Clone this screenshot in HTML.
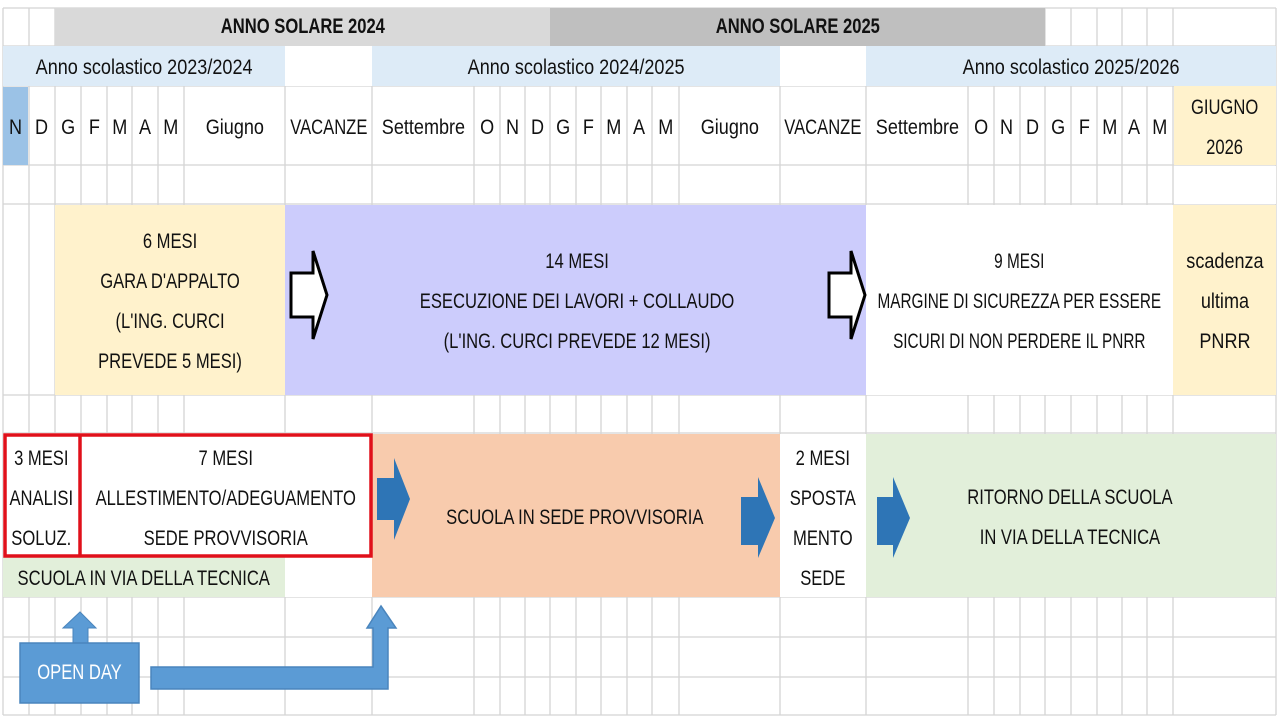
<!DOCTYPE html>
<html><head><meta charset="utf-8"><style>
body{margin:0;width:1280px;height:720px;background:#fff;overflow:hidden;position:relative;font-family:"Liberation Sans Narrow","Liberation Sans",sans-serif;color:#111}
.c{position:absolute;display:flex;align-items:center;justify-content:center;text-align:center;font-size:21px;line-height:40px}
.c span{display:inline-block;transform:scaleX(.86);white-space:nowrap}
.c.u span{transform:scaleX(.79)}
.c.n span{transform:scaleX(.73)}
.b{font-weight:bold}
svg{position:absolute;left:0;top:0}
</style></head><body>
<svg width="1280" height="720">
<g stroke="#d4d4d4" stroke-width="1.3">
<line x1="3" y1="8" x2="3" y2="715"/><line x1="29" y1="8" x2="29" y2="715"/><line x1="55" y1="8" x2="55" y2="715"/><line x1="81" y1="8" x2="81" y2="715"/><line x1="107" y1="8" x2="107" y2="715"/><line x1="132" y1="8" x2="132" y2="715"/><line x1="158" y1="8" x2="158" y2="715"/><line x1="184" y1="8" x2="184" y2="715"/><line x1="285" y1="8" x2="285" y2="715"/><line x1="372" y1="8" x2="372" y2="715"/><line x1="474" y1="8" x2="474" y2="715"/><line x1="500" y1="8" x2="500" y2="715"/><line x1="525" y1="8" x2="525" y2="715"/><line x1="550" y1="8" x2="550" y2="715"/><line x1="576" y1="8" x2="576" y2="715"/><line x1="601" y1="8" x2="601" y2="715"/><line x1="627" y1="8" x2="627" y2="715"/><line x1="652" y1="8" x2="652" y2="715"/><line x1="679" y1="8" x2="679" y2="715"/><line x1="780" y1="8" x2="780" y2="715"/><line x1="866" y1="8" x2="866" y2="715"/><line x1="968" y1="8" x2="968" y2="715"/><line x1="994" y1="8" x2="994" y2="715"/><line x1="1020" y1="8" x2="1020" y2="715"/><line x1="1045" y1="8" x2="1045" y2="715"/><line x1="1071" y1="8" x2="1071" y2="715"/><line x1="1097" y1="8" x2="1097" y2="715"/><line x1="1122" y1="8" x2="1122" y2="715"/><line x1="1147" y1="8" x2="1147" y2="715"/><line x1="1173" y1="8" x2="1173" y2="715"/><line x1="1276" y1="8" x2="1276" y2="715"/>
<line x1="3" y1="8" x2="1276" y2="8"/><line x1="3" y1="46" x2="1276" y2="46"/><line x1="3" y1="86" x2="1276" y2="86"/><line x1="3" y1="165" x2="1276" y2="165"/><line x1="3" y1="204" x2="1276" y2="204"/><line x1="3" y1="395" x2="1276" y2="395"/><line x1="3" y1="433" x2="1276" y2="433"/><line x1="3" y1="597" x2="1276" y2="597"/><line x1="3" y1="637" x2="1276" y2="637"/><line x1="3" y1="677" x2="1276" y2="677"/><line x1="3" y1="715" x2="1276" y2="715"/>
</g>
<rect x="55" y="8" width="495" height="38" fill="#d9d9d9"/>
<rect x="550" y="8" width="495" height="38" fill="#bfbfbf"/>
<rect x="3" y="46" width="282" height="40" fill="#ddebf7"/>
<rect x="285" y="46" width="87" height="40" fill="#fff"/>
<rect x="372" y="46" width="408" height="40" fill="#ddebf7"/>
<rect x="780" y="46" width="86" height="40" fill="#fff"/>
<rect x="866" y="46" width="410" height="40" fill="#ddebf7"/>
<rect x="3" y="87" width="25" height="78" fill="#9bc2e6"/>
<rect x="1174" y="86" width="102" height="79" fill="#fff2cc"/>
<rect x="1174" y="166" width="102" height="38" fill="#fff"/>
<rect x="55" y="205" width="230" height="190" fill="#fff2cc"/>
<rect x="285" y="205" width="581" height="190" fill="#ccccfc"/>
<rect x="866" y="205" width="307" height="190" fill="#fff"/>
<rect x="1173" y="205" width="103" height="190" fill="#fff2cc"/>
<rect x="3" y="433" width="369" height="124" fill="#fff"/>
<rect x="3" y="557" width="282" height="40" fill="#e2efda"/>
<rect x="285" y="557" width="87" height="40" fill="#fff"/>
<rect x="372" y="434" width="408" height="163" fill="#f8cbad"/>
<rect x="780" y="434" width="86" height="163" fill="#fff"/>
<rect x="866" y="434" width="410" height="163" fill="#e2efda"/>
<rect x="5" y="435" width="366" height="121" fill="none" stroke="#e0101a" stroke-width="3.5"/>
<line x1="80" y1="435" x2="80" y2="556" stroke="#e0101a" stroke-width="3.5"/>
<polygon points="291,273 313,273 313,251 327,295 313,339 313,317 291,317" fill="#fff" stroke="#000" stroke-width="3"/>
<polygon points="829,273 851,273 851,251 865,295 851,339 851,317 829,317" fill="#fff" stroke="#000" stroke-width="3"/>
<polygon points="377,478 394,478 394,458 410,499 394,540 394,520 377,520" fill="#2e75b6"/>
<polygon points="741,497 758,497 758,477 775,518 758,558 758,545 741,545" fill="#2e75b6"/>
<polygon points="877,497 893,497 893,477 910,518 893,558 893,545 877,545" fill="#2e75b6"/>
<polygon points="73,643 73,628 63,628 80,612 96,628 88,628 88,643" fill="#5b9bd5" stroke="#4a85bd" stroke-width="1"/>
<rect x="20" y="643" width="119" height="60" fill="#5b9bd5" stroke="#4a85bd" stroke-width="1.5"/>
<polygon points="151,667 373,667 373,628 367,628 381,606 396,628 388,628 388,689 151,689" fill="#5b9bd5" stroke="#4a85bd" stroke-width="1.5"/>
</svg>

<div class="c b u" style="left:55px;top:8px;width:495px;height:38px"><span>ANNO SOLARE 2024</span></div>
<div class="c b u" style="left:550px;top:8px;width:495px;height:38px"><span>ANNO SOLARE 2025</span></div>
<div class="c" style="left:3px;top:48px;width:282px;height:40px"><span>Anno scolastico 2023/2024</span></div>
<div class="c" style="left:372px;top:48px;width:408px;height:40px"><span>Anno scolastico 2024/2025</span></div>
<div class="c" style="left:866px;top:48px;width:410px;height:40px"><span>Anno scolastico 2025/2026</span></div>

<div class="c" style="left:3px;top:88px;width:26px;height:79px"><span>N</span></div>
<div class="c" style="left:29px;top:88px;width:26px;height:79px"><span>D</span></div>
<div class="c" style="left:55px;top:88px;width:26px;height:79px"><span>G</span></div>
<div class="c" style="left:81px;top:88px;width:26px;height:79px"><span>F</span></div>
<div class="c" style="left:107px;top:88px;width:25px;height:79px"><span>M</span></div>
<div class="c" style="left:132px;top:88px;width:26px;height:79px"><span>A</span></div>
<div class="c" style="left:158px;top:88px;width:26px;height:79px"><span>M</span></div>
<div class="c" style="left:184px;top:88px;width:101px;height:79px"><span>Giugno</span></div>
<div class="c u" style="left:285px;top:88px;width:87px;height:79px"><span>VACANZE</span></div>
<div class="c" style="left:372px;top:88px;width:102px;height:79px"><span>Settembre</span></div>
<div class="c" style="left:474px;top:88px;width:26px;height:79px"><span>O</span></div>
<div class="c" style="left:500px;top:88px;width:25px;height:79px"><span>N</span></div>
<div class="c" style="left:525px;top:88px;width:25px;height:79px"><span>D</span></div>
<div class="c" style="left:550px;top:88px;width:26px;height:79px"><span>G</span></div>
<div class="c" style="left:576px;top:88px;width:25px;height:79px"><span>F</span></div>
<div class="c" style="left:601px;top:88px;width:26px;height:79px"><span>M</span></div>
<div class="c" style="left:627px;top:88px;width:25px;height:79px"><span>A</span></div>
<div class="c" style="left:652px;top:88px;width:27px;height:79px"><span>M</span></div>
<div class="c" style="left:679px;top:88px;width:101px;height:79px"><span>Giugno</span></div>
<div class="c u" style="left:780px;top:88px;width:86px;height:79px"><span>VACANZE</span></div>
<div class="c" style="left:866px;top:88px;width:102px;height:79px"><span>Settembre</span></div>
<div class="c" style="left:968px;top:88px;width:26px;height:79px"><span>O</span></div>
<div class="c" style="left:994px;top:88px;width:26px;height:79px"><span>N</span></div>
<div class="c" style="left:1020px;top:88px;width:25px;height:79px"><span>D</span></div>
<div class="c" style="left:1045px;top:88px;width:26px;height:79px"><span>G</span></div>
<div class="c" style="left:1071px;top:88px;width:26px;height:79px"><span>F</span></div>
<div class="c" style="left:1097px;top:88px;width:25px;height:79px"><span>M</span></div>
<div class="c" style="left:1122px;top:88px;width:25px;height:79px"><span>A</span></div>
<div class="c" style="left:1147px;top:88px;width:26px;height:79px"><span>M</span></div>
<div class="c u" style="left:1173px;top:88px;width:103px;height:79px"><span>GIUGNO<br>2026</span></div>

<div class="c u" style="left:55px;top:206px;width:230px;height:191px"><span>6 MESI<br>GARA D'APPALTO<br>(L'ING. CURCI<br>PREVEDE 5 MESI)</span></div>
<div class="c u" style="left:330px;top:206px;width:495px;height:191px"><span>14 MESI<br>ESECUZIONE DEI LAVORI + COLLAUDO<br>(L'ING. CURCI PREVEDE 12 MESI)</span></div>
<div class="c n" style="left:866px;top:206px;width:307px;height:191px"><span>9 MESI<br>MARGINE DI SICUREZZA PER ESSERE<br>SICURI DI NON PERDERE IL PNRR</span></div>
<div class="c" style="left:1173px;top:206px;width:103px;height:191px"><span>scadenza<br>ultima<br>PNRR</span></div>

<div class="c u" style="left:3px;top:439px;width:77px;height:120px"><span>3 MESI<br>ANALISI<br>SOLUZ.</span></div>
<div class="c u" style="left:80px;top:439px;width:292px;height:120px"><span>7 MESI<br>ALLESTIMENTO/ADEGUAMENTO<br>SEDE PROVVISORIA</span></div>
<div class="c u" style="left:3px;top:559px;width:282px;height:40px"><span>SCUOLA IN VIA DELLA TECNICA</span></div>
<div class="c u" style="left:410px;top:436px;width:330px;height:163px"><span>SCUOLA IN SEDE PROVVISORIA</span></div>
<div class="c u" style="left:780px;top:439px;width:86px;height:160px"><span>2 MESI<br>SPOSTA<br>MENTO<br>SEDE</span></div>
<div class="c u" style="left:910px;top:436px;width:320px;height:163px"><span>RITORNO DELLA SCUOLA<br>IN VIA DELLA TECNICA</span></div>
<div class="c u" style="left:20px;top:643px;width:119px;height:60px;color:#fff"><span>OPEN DAY</span></div>
</body></html>
